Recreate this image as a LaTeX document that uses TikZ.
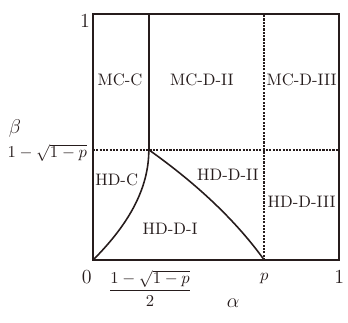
\documentclass[tikz,border=0pt]{standalone}
\usepackage{xcolor}
\usepackage{tikz}

\begin{document}
\begin{tikzpicture}[x=1mm,y=1mm]
  \definecolor{ldark}{RGB}{38,28,28}
  \tikzset{
    frame/.style={ldark,line width=1.2pt},
    border/.style={ldark,line width=0.95pt},
    dashborder/.style={ldark,line width=1pt,dash pattern=on 1.3pt off 0.7pt},
    region/.style={font=\normalsize,text=ldark,inner sep=0pt},
    tick/.style={font=\large,text=ldark,inner sep=0pt}
  }
  \useasboundingbox (-19.66,-13.10) rectangle (53.90,54.97);
  % corners and phase boundary points
  \coordinate (o) at (0.00,0.00);
  \coordinate (tr) at (52.00,52.00);
  \coordinate (atop) at (11.80,52.00);
  \coordinate (c) at (11.80,23.30);
  \coordinate (bl) at (0.00,23.30);
  \coordinate (br) at (52.00,23.30);
  \coordinate (p) at (36.20,0.00);
  \coordinate (ptop) at (36.20,52.00);
  % boundaries
  \draw[border] (c) -- (atop);
  \draw[dashborder] (bl) -- (br);
  \draw[dashborder] (p) -- (ptop);
  \draw[border] (o) .. controls (7.87,7.87) and (11.80,15.43) .. (c);
  \draw[border] (c) .. controls (22.10,16.00) and (30.30,8.20) .. (p);
  \draw[frame] (o) rectangle (tr);
  % phases
  \node[region] (mcc) at (5.71,38.05) {MC-C};
  \node[region] (mcd2) at (23.00,38.05) {MC-D-II};
  \node[region] (mcd3) at (44.10,38.05) {MC-D-III};
  \node[region] (hdc) at (5.00,16.90) {HD-C};
  \node[region] (hdd2) at (28.50,18.10) {HD-D-II};
  \node[region] (hdd3) at (44.10,12.30) {HD-D-III};
  \node[region] (hdd1) at (16.30,6.70) {HD-D-I};
  % axes
  \node[tick] (zero) at (-1.33,-3.53) {0};
  \node[tick] (xone) at (52.05,-3.53) {1};
  \node[tick] (yone) at (-1.69,50.60) {1};
  \node[region] (pval) at (36.20,-4.00) {$p$};
  \node[region] (xfrac) at (12.05,-5.90) {$\displaystyle\frac{1-\sqrt{1-p}}{2}$};
  \node[region,anchor=east] (yval) at (-1.20,22.70) {$1-\sqrt{1-p}$};
  \node[region,font=\large] (alpha) at (29.60,-9.10) {$\alpha$};
  \node[region,font=\large] (beta) at (-16.50,27.90) {$\beta$};
\end{tikzpicture}
\end{document}
